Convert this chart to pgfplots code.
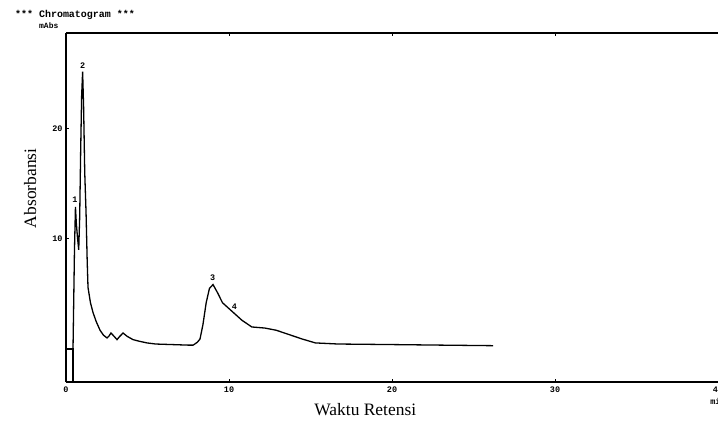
\documentclass[border=0pt]{standalone}
\usepackage{fontspec}
\setmainfont{Liberation Serif}
\setmonofont{Liberation Mono}
\usepackage{pgfplots}
\pgfplotsset{compat=1.18}
\begin{document}
\begin{tikzpicture}[x=1bp,y=1bp]
\useasboundingbox (0,0) rectangle (718,422);
% header of the instrument print-out
\node[font=\fontsize{10}{11}\selectfont\ttfamily\bfseries, anchor=west, inner sep=0pt] at (15,407) {*** Chromatogram ***};
\node[font=\fontsize{8}{9}\selectfont\ttfamily\bfseries, anchor=west, inner sep=0pt] at (39,396) {mAbs};
\begin{axis}[
    at={(66bp,40bp)}, anchor=south west,
    scale only axis, width=652bp, height=349bp,
    xmin=0, xmax=40, ymin=-3, ymax=28.7,
    axis x line*=box, axis y line*=left,
    axis line style={line width=1.6bp, black},
    xtick={0,10,20,30,40},
    ytick={0,10,20}, yticklabels={,10,20},
    minor x tick num=4,
    tick align=inside, major tick length=3bp, minor tick length=1.5bp,
    tick style={black, line width=0.8bp},
    /pgf/number format/assume math mode=true,
    tick label style={font=\fontsize{8.5}{9}\selectfont\ttfamily\bfseries},
    xticklabel style={yshift=-1bp},
    xlabel={Waktu Retensi}, ylabel={Absorbansi},
    label style={font=\fontsize{17.5}{19}\selectfont},
    xlabel style={at={(axis description cs:0.459,-0.052)}, anchor=north},
    ylabel style={at={(axis description cs:-0.055,0.555)}, anchor=center},
    clip mode=individual,
]
% baseline marker and start line
\addplot[black, line width=1.6bp] coordinates {(-0.55,0) (0.43,0) (0.43,-3)};
\addplot[only marks, mark=*, mark size=2.6bp, black] coordinates {(-0.55,0)};
% chromatogram trace
\addplot[black, line width=1.3bp] coordinates {
(0.43,0) (0.47,4) (0.52,9) (0.58,12.9) (0.63,11.5) (0.7,10.2) (0.78,9)
(0.84,12) (0.9,18) (0.96,23) (1.02,25.2) (1.08,22) (1.15,16) (1.23,12.4)
(1.3,8) (1.35,5.6) (1.5,4.2) (1.66,3.3) (1.85,2.5) (2.09,1.7) (2.3,1.25)
(2.52,1.0) (2.65,1.2) (2.76,1.45) (2.95,1.15) (3.13,0.85) (3.3,1.15)
(3.5,1.45) (3.75,1.15) (4.11,0.85) (4.5,0.7) (4.97,0.55) (5.5,0.45)
(6.5,0.4) (7.5,0.35) (7.8,0.35) (8.05,0.6) (8.22,0.9) (8.4,2.2) (8.6,4.2)
(8.8,5.5) (9.02,5.85) (9.3,5.1) (9.6,4.2) (10.2,3.4) (10.8,2.6) (11.4,2.0)
(12.2,1.9) (12.9,1.7) (13.7,1.3) (14.5,0.9) (15.3,0.55) (16.7,0.45)
(20,0.4) (23,0.35) (26.2,0.3)
};
% peak numbers
\node[font=\fontsize{8.5}{9}\selectfont\ttfamily\bfseries, anchor=south] at (axis cs:0.55,13.0) {1};
\node[font=\fontsize{8.5}{9}\selectfont\ttfamily\bfseries, anchor=south] at (axis cs:1.02,25.2) {2};
\node[font=\fontsize{8.5}{9}\selectfont\ttfamily\bfseries, anchor=south] at (axis cs:9.0,5.9) {3};
\node[font=\fontsize{8.5}{9}\selectfont\ttfamily\bfseries, anchor=south west, inner sep=1bp] at (axis cs:10.1,3.5) {4};
\end{axis}
\node[font=\fontsize{8.5}{9}\selectfont\ttfamily\bfseries, anchor=north] at (718,27) {min};
\end{tikzpicture}
\end{document}
